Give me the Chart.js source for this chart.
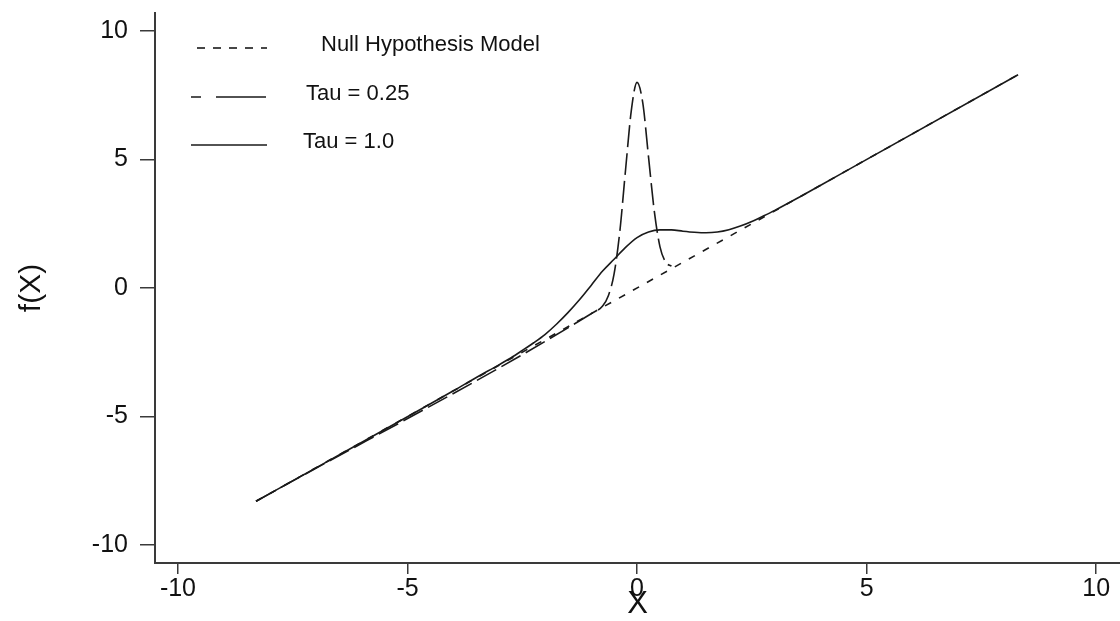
<!DOCTYPE html>
<html>
<head>
<meta charset="utf-8">
<script src="https://cdn.jsdelivr.net/npm/chart.js@4"></script>
<style>
  html, body { margin: 0; padding: 0; background: #fff; }
  #wrap { width: 1120px; height: 621px; }
</style>
</head>
<body>
<div id="wrap"><canvas id="chart" width="1120" height="621"></canvas></div>
<script>
// ===== DATA =====
const seriesLabels = ["Null Hypothesis Model", "Tau = 0.25", "Tau = 1.0"];
const tickVals = [-10, -5, 0, 5, 10];

const nullX = [-8.3, 8.3];
const nullY = [-8.3, 8.3];

const tau025X = [-8.3, -1, -0.75, -0.625, -0.5, -0.375, -0.25, -0.125, 0, 0.125, 0.25, 0.375, 0.5, 0.625, 0.75];
const tau025Y = [-8.3, -1, -0.7, -0.3, 0.55, 2.2, 4.6, 6.9, 8.0, 7.2, 5.1, 3.0, 1.6, 1.0, 0.85];

const tau1X = [-8.3, -4, -3.5, -3, -2.75, -2.5, -2.25, -2, -1.75, -1.5, -1.25, -1, -0.75, -0.5, -0.25,
               0, 0.25, 0.5, 0.75, 1, 1.25, 1.5, 1.75, 2, 2.25, 2.5, 2.75, 3, 3.5, 4, 8.3];
const tau1Y = [-8.3, -4, -3.48, -2.98, -2.72, -2.43, -2.13, -1.8, -1.4, -0.95, -0.45, 0.1, 0.66, 1.12, 1.58,
               1.96, 2.18, 2.26, 2.26, 2.21, 2.17, 2.15, 2.18, 2.27, 2.41, 2.59, 2.8, 3.02, 3.5, 4, 8.3];

// ===== HELPERS =====
const pts = (xs, ys) => xs.map((x, i) => ({ x: x, y: ys[i] }));
const INK = "#1a1a1a";
const AXIS = "#3a3a3a";
const FONT = "'Liberation Sans', Arial, sans-serif";

// legend drawn inside the plot, top-left
const legendLines = {
  id: "legendLines",
  afterDraw(chart) {
    const ctx = chart.ctx;
    const dash = [[8, 8], [50, 15], []];
    const dashOff = [10, 40, 0];
    const lineY = [48, 97, 145];
    const textX = [321, 306, 303];
    ctx.save();
    seriesLabels.forEach((lab, i) => {
      ctx.beginPath();
      ctx.setLineDash(dash[i]);
      ctx.lineDashOffset = dashOff[i];
      ctx.strokeStyle = INK;
      ctx.lineWidth = 1.6;
      ctx.moveTo(191, lineY[i]);
      ctx.lineTo(267, lineY[i]);
      ctx.stroke();
      ctx.setLineDash([]);
      ctx.fillStyle = "#111";
      ctx.font = "22px " + FONT;
      ctx.textAlign = "left";
      ctx.textBaseline = "alphabetic";
      ctx.fillText(lab, textX[i], lineY[i] + 3);
    });
    ctx.restore();
  }
};

const lineDs = (label, data, dash) => ({
  label: label,
  data: data,
  borderColor: INK,
  borderWidth: 1.6,
  borderDash: dash,
  pointRadius: 0,
  fill: false,
  cubicInterpolationMode: "monotone"
});

new Chart(document.getElementById("chart").getContext("2d"), {
  type: "line",
  data: {
    datasets: [
      lineDs(seriesLabels[0], pts(nullX, nullY), [7, 9]),
      lineDs(seriesLabels[1], pts(tau025X, tau025Y), [22, 6]),
      lineDs(seriesLabels[2], pts(tau1X, tau1Y), [])
    ]
  },
  options: {
    responsive: false,
    devicePixelRatio: 1,
    animation: false,
    events: [],
    layout: { padding: { top: 13, right: 0, left: 0, bottom: 0 } },
    plugins: { legend: { display: false }, tooltip: { enabled: false } },
    scales: {
      x: {
        type: "linear",
        min: -10.5,
        max: 10.52,
        afterBuildTicks: (s) => { s.ticks = tickVals.map(v => ({ value: v })); },
        afterFit: (s) => { s.height = 58; s.paddingLeft = 0; s.paddingRight = 0; },
        grid: { display: true, drawOnChartArea: false, drawTicks: true, tickLength: 11, color: AXIS, lineWidth: 1.5 },
        border: { display: true, color: AXIS, width: 2 },
        ticks: { color: "#111", font: { family: FONT, size: 25 }, padding: 0, maxRotation: 0, autoSkip: false },
        title: { display: true, text: "X", color: "#111", font: { family: FONT, size: 31, lineHeight: 1 }, padding: { top: 0, bottom: 1 } }
      },
      y: {
        type: "linear",
        min: -10.7,
        max: 10.7,
        afterBuildTicks: (s) => { s.ticks = tickVals.map(v => ({ value: v })); },
        afterFit: (s) => { s.width = 155; s.paddingTop = 0; s.paddingBottom = 0; },
        grid: { display: true, drawOnChartArea: false, drawTicks: true, tickLength: 15, color: AXIS, lineWidth: 1.5 },
        border: { display: true, color: AXIS, width: 2 },
        ticks: { color: "#111", font: { family: FONT, size: 25 }, padding: 12, autoSkip: false },
        title: { display: true, text: "f(X)", color: "#111", font: { family: FONT, size: 30, lineHeight: 1 }, padding: { top: 17, bottom: 0 } }
      }
    }
  },
  plugins: [legendLines]
});
</script>
</body>
</html>
